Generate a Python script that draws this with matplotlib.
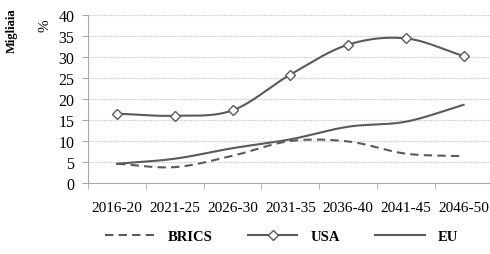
import numpy as np
import matplotlib.pyplot as plt
from matplotlib.lines import Line2D

periods = ['2016-20', '2021-25', '2026-30', '2031-35', '2036-40', '2041-45', '2046-50']
brics = [4.6, 3.8, 6.5, 10.0, 9.9, 7.0, 6.4]
usa = [16.5, 16.0, 17.3, 25.8, 32.9, 34.4, 30.2]
eu = [4.6, 5.8, 8.3, 10.4, 13.4, 14.6, 18.6]

plt.rcParams['font.family'] = ['Liberation Serif', 'DejaVu Serif']


def smooth(x, y, n=30):
    # Catmull-Rom style curve like Excel's smoothed lines
    x = np.asarray(x, float)
    y = np.asarray(y, float)
    px = np.concatenate([[2 * x[0] - x[1]], x, [2 * x[-1] - x[-2]]])
    py = np.concatenate([[2 * y[0] - y[1]], y, [2 * y[-1] - y[-2]]])
    xs, ys = [], []
    t = np.linspace(0, 1, n)
    for i in range(1, len(px) - 2):
        p0, p1, p2, p3 = py[i - 1], py[i], py[i + 1], py[i + 2]
        q0, q1, q2, q3 = px[i - 1], px[i], px[i + 1], px[i + 2]
        f = lambda a, b, c, d: 0.5 * (2 * b + (c - a) * t + (2 * a - 5 * b + 4 * c - d) * t ** 2
                                      + (3 * b - a - 3 * c + d) * t ** 3)
        xs.extend(f(q0, q1, q2, q3))
        ys.extend(f(p0, p1, p2, p3))
    return np.array(xs), np.array(ys)


fig = plt.figure(figsize=(4.9, 2.55), dpi=100)
ax = fig.add_axes([0.18, 0.278, 0.825, 0.66])

col = '#5a5a5a'
xi = np.arange(len(periods))

sx, sy = smooth(xi, brics)
ax.plot(sx, sy, color=col, lw=1.5, ls=(0, (4, 2.5)))
sx, sy = smooth(xi, usa)
ax.plot(sx, sy, color=col, lw=1.5)
ax.plot(xi, usa, ls='none', marker='D', ms=5.5, mfc='white', mec=col, mew=1.0)
sx, sy = smooth(xi, eu)
ax.plot(sx, sy, color=col, lw=1.5)

ax.set_xlim(-0.5, len(periods) - 0.5)
ax.set_ylim(0, 40)
ax.set_yticks(range(0, 41, 5))
ax.yaxis.grid(True, color='#c4c4c4', ls=(0, (1, 1)), lw=0.8)
ax.set_axisbelow(True)

ax.set_xticks(xi)
ax.set_xticklabels(periods, fontsize=11)
ax.set_xticks(np.arange(-0.5, len(periods), 1), minor=True)
ax.tick_params(axis='x', which='major', length=0, pad=13)
ax.tick_params(axis='x', which='minor', length=4, color='#a8a8a8', direction='out')
ax.tick_params(axis='y', labelsize=11.5, length=4, color='#a8a8a8', pad=6)

for s in ['top', 'right']:
    ax.spines[s].set_visible(False)
for s in ['left', 'bottom']:
    ax.spines[s].set_color('#a8a8a8')

fig.text(0.025, 0.88, 'Migliaia', rotation=90, fontsize=9, fontweight='bold',
         ha='center', va='center')
fig.text(0.092, 0.9, '%', rotation=90, fontsize=11, ha='center', va='center')

handles = [
    Line2D([], [], color=col, lw=1.5, ls=(0, (4, 2.5))),
    Line2D([], [], color=col, lw=1.5, marker='D', ms=5.5, mfc='white', mec=col),
    Line2D([], [], color=col, lw=1.5),
]
fig.legend(handles, ['BRICS', 'USA', 'EU'], loc='center', bbox_to_anchor=(0.575, 0.07),
           ncol=3, frameon=False, handlelength=3.4, handletextpad=0.9, columnspacing=2.4,
           prop={'weight': 'bold', 'size': 10.5, 'family': 'Liberation Serif'})

fig.savefig('out.png', dpi=100)
